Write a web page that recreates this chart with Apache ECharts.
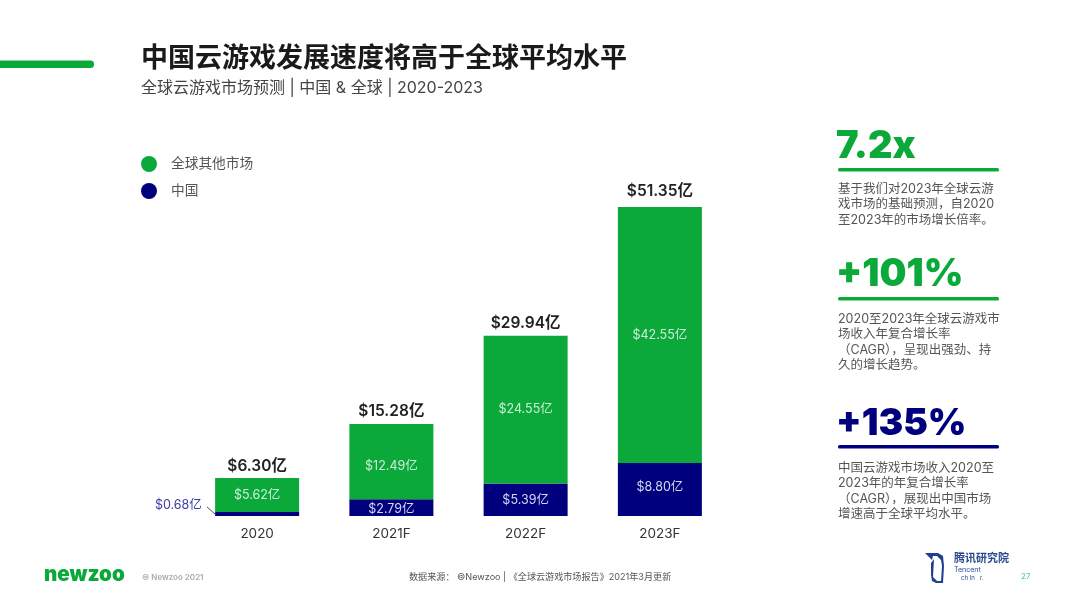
<!DOCTYPE html>
<html>
<head>
<meta charset="utf-8">
<style>
  html, body { margin: 0; padding: 0; background: #fff; }
  #chart { width: 1080px; height: 608px; }
</style>
<script src="https://cdn.jsdelivr.net/npm/echarts@6/dist/echarts.min.js"></script>
</head>
<body>
<div id="chart"></div>
<script>
var categories = ['2020', '2021F', '2022F', '2023F']
var restOfWorld = [5.62, 12.49, 24.55, 42.55]
var china = [0.68, 2.79, 5.39, 8.80]
var totals = [6.30, 15.28, 29.94, 51.35]

var GREEN = '#0aa93a'
var NAVY = '#00007f'
var FONT = 'Inter, "Noto Sans CJK SC", sans-serif'

var yi = function (v) { return '$' + v.toFixed(2) + '亿' }

var txt = function (x, y, text, size, color, weight) {
  return {
    type: 'text',
    x: x,
    y: y,
    style: {
      text: text,
      fontSize: size,
      fontFamily: FONT,
      fontWeight: weight || 'normal',
      fill: color,
      textVerticalAlign: 'middle'
    }
  }
}
var rule = function (y, color) {
  return {
    type: 'rect',
    shape: { x: 838, y: y, width: 161, height: 3.5, r: 1.5 },
    style: { fill: color }
  }
}
var para = function (y, text) {
  return {
    type: 'text',
    x: 838,
    y: y,
    style: { text: text, fontSize: 12.5, lineHeight: 15.5, fontFamily: FONT, fill: '#555' }
  }
}

var chart = echarts.init(document.getElementById('chart'), null, { renderer: 'canvas' })
chart.setOption({
  animation: false,
  backgroundColor: '#fff',
  textStyle: { fontFamily: FONT },
  grid: { left: 190, width: 537, top: 155, height: 361 },
  legend: {
    orient: 'vertical',
    left: 136,
    top: 151,
    icon: 'circle',
    itemWidth: 16,
    itemHeight: 16,
    itemGap: 11,
    data: ['全球其他市场', '中国'],
    textStyle: { fontSize: 13.7, color: '#555', padding: [0, 0, 0, 9] }
  },
  xAxis: {
    type: 'category',
    data: categories,
    axisLine: { show: false },
    axisTick: { show: false },
    axisLabel: { fontSize: 13.5, color: '#333', margin: 11 }
  },
  yAxis: { type: 'value', min: 0, max: 60, show: false },
  series: [
    {
      name: '中国',
      type: 'bar',
      stack: 'total',
      barWidth: 84,
      data: china.map(function (v, i) {
        // the 2020 slice is too thin, its label sits outside with a leader
        return i === 0 ? { value: v, label: { color: '#3a3aa8' } } : v
      }),
      itemStyle: { color: NAVY },
      label: {
        show: true,
        position: 'inside',
        fontSize: 12.5,
        color: '#d5d8ee',
        formatter: function (p) { return yi(p.value) }
      },
      labelLayout: function (p) {
        if (p.dataIndex === 0) return { x: 155, y: 505, align: 'left', verticalAlign: 'middle' }
        if (p.dataIndex === 1) return { dy: 2 }
        if (p.dataIndex === 3) return { dy: -2 }
      },
      z: 2
    },
    {
      name: '全球其他市场',
      type: 'bar',
      stack: 'total',
      data: restOfWorld,
      itemStyle: { color: GREEN },
      label: {
        show: true,
        position: 'inside',
        fontSize: 12.5,
        color: '#cfeeda',
        formatter: function (p) { return yi(p.value) }
      },
      labelLayout: function (p) {
        if (p.dataIndex === 1) return { dy: 5 }
      }
    },
    {
      name: '合计',
      type: 'line',
      data: totals,
      symbol: 'circle',
      symbolSize: 1,
      itemStyle: { color: 'transparent' },
      lineStyle: { opacity: 0 },
      label: {
        show: true,
        position: 'top',
        distance: 4,
        fontSize: 15.5,
        fontWeight: 600,
        color: '#222',
        formatter: function (p) { return yi(p.value) }
      },
      labelLayout: function (p) {
        if (p.dataIndex === 3) return { dy: -3 }
      }
    }
  ],
  graphic: [
    { type: 'rect', shape: { x: -6, y: 60.5, width: 100, height: 7.5, r: 3.5 }, style: { fill: GREEN } },
    txt(141, 58.5, '中国云游戏发展速度将高于全球平均水平', 27, '#1a1a1a', 'bold'),
    txt(141, 88, '全球云游戏市场预测 | 中国 & 全球 | 2020-2023', 16, '#444'),

    { type: 'line', shape: { x1: 207, y1: 507, x2: 215, y2: 514 }, style: { stroke: '#555', lineWidth: 1 } },

    txt(836, 147, '7.2x', 38, GREEN, 900),
    rule(168, GREEN),
    para(181, '基于我们对2023年全球云游\n戏市场的基础预测，自2020\n至2023年的市场增长倍率。'),

    txt(836, 275, '+101%', 38, GREEN, 900),
    rule(297, GREEN),
    para(311, '2020至2023年全球云游戏市\n场收入年复合增长率\n（CAGR），呈现出强劲、持\n久的增长趋势。'),

    txt(836, 424, '+135%', 37, NAVY, 900),
    rule(445, NAVY),
    para(460, '中国云游戏市场收入2020至\n2023年的年复合增长率\n（CAGR），展现出中国市场\n增速高于全球平均水平。'),

    txt(44, 575, 'newzoo', 20.5, GREEN, 900),
    txt(142, 578, '© Newzoo 2021', 8, '#aaa', 600),
    txt(409, 577, '数据来源： ©Newzoo | 《全球云游戏市场报告》2021年3月更新', 9.1, '#555'),

    {
      type: 'polygon',
      shape: { points: [[925, 553], [938, 553], [943, 556], [944, 566], [943, 583], [936, 583], [932, 581], [931, 575], [931, 563], [934, 559], [933, 577], [937, 581], [941, 581], [942, 566], [941, 560], [937, 556], [933, 556], [932, 560]] },
      style: { fill: '#1f3f8f' }
    },
    txt(954, 559, '腾讯研究院', 11, '#2a4a90', 'bold'),
    txt(954, 570, 'Tencent', 7, '#2a4a90'),
    txt(961, 578, 'ch In   r.', 6, '#2a4a90'),
    txt(1021, 577, '27', 8, '#55cc77')
  ]
})
</script>
</body>
</html>
